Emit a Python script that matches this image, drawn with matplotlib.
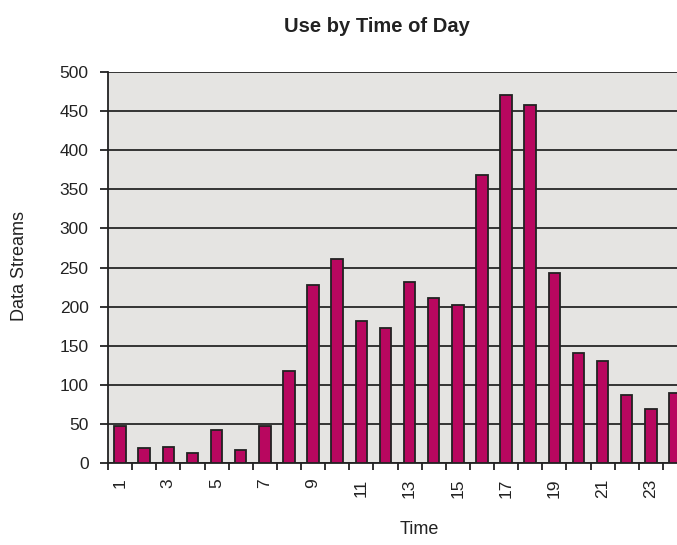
import numpy as np
import matplotlib.pyplot as plt

plt.rcParams['font.family'] = ['Liberation Sans', 'DejaVu Sans']

# Nombre de flux par heure de la journée
hours = np.arange(1, 25)
streams = [47, 19, 21, 13, 42, 17, 47, 118, 227, 261, 182, 172,
           231, 211, 202, 368, 470, 458, 243, 141, 131, 87, 69, 89]
hour_labels = [str(h) for h in range(1, 25, 2)]

fig = plt.figure(figsize=(6.77, 5.45), dpi=100)
# l'axe déborde un peu à droite, comme dans le graphique d'origine
ax = fig.add_axes([108/677, 82/545, 579/677, 391/545])
ax.set_facecolor('#e5e4e2')

ax.bar(hours, streams, width=0.48, color='#b8075f',
       edgecolor='#222222', linewidth=1.3, zorder=3)

ax.set_xlim(0.5, 24.5)
ax.set_ylim(0, 500)
ax.set_yticks(np.arange(0, 501, 50))
ax.yaxis.grid(True, color='#262626', linewidth=1.3, zorder=1)

# graduations entre les catégories, étiquettes une heure sur deux
ax.set_xticks(np.arange(0.5, 25, 1), minor=True)
ax.set_xticks(np.arange(1, 25, 2))
ax.set_xticklabels(hour_labels, rotation=90, va='top', ha='center')
ax.tick_params(axis='x', which='major', length=0, pad=11, labelsize=12.5, colors='#222222')
ax.tick_params(axis='x', which='minor', length=5, width=1.3, color='#222222')
ax.tick_params(axis='y', length=6, width=1.3, color='#222222', labelsize=12.5,
               labelcolor='#222222', pad=8)

for side in ['top', 'right']:
    ax.spines[side].set_visible(False)
for side in ['left', 'bottom']:
    ax.spines[side].set_color('#222222')
    ax.spines[side].set_linewidth(1.3)

fig.text(377/677, 1 - 26/545, "Use by Time of Day", ha='center', va='center',
         fontsize=14.5, fontweight='bold', color='#222222')
fig.text(20/677, 1 - 266/545, "Data Streams", rotation=90, ha='center', va='center',
         fontsize=13, color='#222222')
fig.text(419/677, 1 - 530/545, "Time", ha='center', va='center',
         fontsize=13, color='#222222')

plt.savefig("out.png", dpi=100)
